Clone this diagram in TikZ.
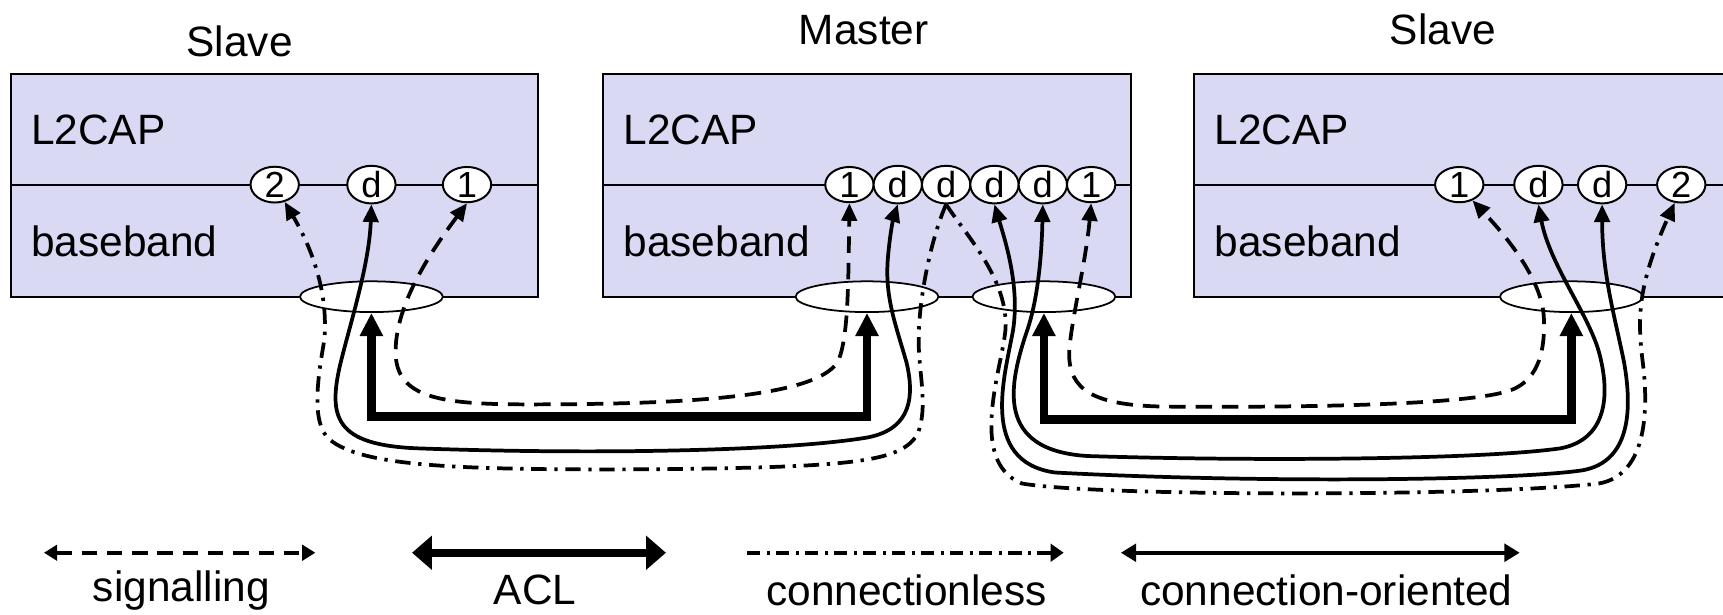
\documentclass[tikz,border=0pt]{standalone}
\usepackage{fontspec}
\setmainfont{Liberation Sans}
\usetikzlibrary{arrows.meta,shapes.geometric}
\definecolor{boxfill}{RGB}{217,217,243}
\begin{document}
\begin{tikzpicture}[x=0.5pt,y=-0.5pt,
  bigtext/.style={font=\fontsize{19.3}{23}\selectfont, inner sep=0pt},
  layerbox/.style={draw, line width=0.9pt, fill=boxfill},
  port/.style={ellipse, draw, fill=white, line width=0.9pt, minimum width=22pt, minimum height=14pt, inner sep=0pt, font=\fontsize{16.5}{17}\selectfont},
  linkend/.style={ellipse, draw, fill=white, line width=0.8pt, minimum width=65pt, minimum height=14pt, inner sep=0pt},
  conn/.style={line width=1.7pt},
  tip/.style={-{Triangle[length=8pt,width=7pt]}},
  twotip/.style={{Triangle[length=8pt,width=7pt]}-{Triangle[length=8pt,width=7pt]}},
  sig/.style={conn, dash pattern=on 7.5pt off 4.5pt},
  cless/.style={conn, dash pattern=on 7pt off 3.5pt on 1.5pt off 3.5pt},
  acl/.style={line width=4pt, {Triangle[length=10.5pt,width=10pt]}-{Triangle[length=10.5pt,width=10pt]}}
]
\useasboundingbox (0,0) rectangle (1568,559);
\begin{scope}
\clip (0,0) rectangle (1568,559);
% titles
\node[bigtext] (tS1) at (218,38) {Slave};
\node[bigtext] (tM) at (786,27) {Master};
\node[bigtext] (tS2) at (1313,27) {Slave};
% boxes
\draw[layerbox] (10,67) rectangle (490,270);
\draw[line width=0.9pt] (10,168) -- (490,168);
\draw[layerbox] (549,67) rectangle (1029,270);
\draw[line width=0.9pt] (549,168) -- (1029,168);
\draw[layerbox] (1087,67) rectangle (1580,270);
\draw[line width=0.9pt] (1087,168) -- (1580,168);
\node[bigtext, anchor=west] (l2a) at (28,118) {L2CAP};
\node[bigtext, anchor=west] (bba) at (28,220) {baseband};
\node[bigtext, anchor=west] (l2b) at (567,118) {L2CAP};
\node[bigtext, anchor=west] (bbb) at (567,220) {baseband};
\node[bigtext, anchor=west] (l2c) at (1105,118) {L2CAP};
\node[bigtext, anchor=west] (bbc) at (1105,220) {baseband};
% ports
\node[port] (p2L) at (250,168) {2};
\node[port] (pdL) at (338,168) {d};
\node[port] (p1L) at (425,168) {1};
\node[port] (m1a) at (773,168) {1};
\node[port] (md1) at (817,168) {d};
\node[port] (md2) at (861,168) {d};
\node[port] (md3) at (905,168) {d};
\node[port] (md4) at (949,168) {d};
\node[port] (m1b) at (993,168) {1};
\node[port] (r1) at (1328,168) {1};
\node[port] (rd1) at (1400,168) {d};
\node[port] (rd2) at (1458,168) {d};
\node[port] (r2) at (1530,168) {2};
% link ends
\node[linkend] (eL) at (338,270) {};
\node[linkend] (eM1) at (789,270) {};
\node[linkend] (eM2) at (950,270) {};
\node[linkend] (eR) at (1430,270) {};
% ACL
\draw[acl] (eL.south) -- ++(0,94) -| (eM1.south);
\draw[acl] (eM2.south) -- ++(0,97) -| (eR.south);
% left connection
\draw[sig, twotip] (p1L.south) .. controls (395,225) and (360,275) .. (360,320)
  .. controls (360,362) and (400,368) .. (480,368)
  .. controls (620,368) and (740,362) .. (762,330)
  .. controls (772,310) and (772,260) .. (m1a.south);
\draw[conn, twotip] (pdL.south) .. controls (336,240) and (320,290) .. (310,330)
  .. controls (298,380) and (305,405) .. (380,408)
  .. controls (550,414) and (720,410) .. (790,398)
  .. controls (830,390) and (832,360) .. (825,330)
  .. controls (815,295) and (805,270) .. (808,235)
  .. controls (810,210) and (814,195) .. (md1.south);
\draw[cless, tip] (md2.south) .. controls (848,215) and (836,270) .. (836,310)
  .. controls (836,340) and (845,370) .. (835,395)
  .. controls (820,420) and (780,425) .. (600,427)
  .. controls (420,428) and (330,425) .. (300,400)
  .. controls (282,385) and (290,340) .. (295,310)
  .. controls (298,280) and (292,240) .. (p2L.-60);
% right connection
\draw[sig, twotip] (m1b.south) .. controls (988,240) and (975,290) .. (973,320)
  .. controls (972,355) and (995,369) .. (1060,370)
  .. controls (1200,371) and (1340,368) .. (1375,355)
  .. controls (1402,345) and (1406,315) .. (1405,290)
  .. controls (1404,260) and (1380,225) .. (r1.-50);
\draw[conn, twotip] (md4.south) .. controls (948,230) and (945,270) .. (935,300)
  .. controls (918,350) and (905,410) .. (990,415)
  .. controls (1150,420) and (1350,418) .. (1420,408)
  .. controls (1462,400) and (1466,360) .. (1455,320)
  .. controls (1445,285) and (1410,240) .. (rd1.south);
\draw[conn, twotip] (md3.south) .. controls (915,220) and (928,260) .. (922,300)
  .. controls (915,340) and (890,420) .. (960,430)
  .. controls (1150,440) and (1380,437) .. (1440,428)
  .. controls (1485,420) and (1485,370) .. (1478,330)
  .. controls (1470,290) and (1458,250) .. (rd2.south);
\draw[cless, tip] (md2.south) .. controls (880,215) and (918,255) .. (915,300)
  .. controls (912,335) and (880,420) .. (930,440)
  .. controls (1000,452) and (1350,452) .. (1455,440)
  .. controls (1500,432) and (1500,370) .. (1495,330)
  .. controls (1490,290) and (1490,260) .. (r2.-110);
% legend
\coordinate (sa) at (40,503); \coordinate (sb) at (287,503);
\coordinate (aa) at (375,503); \coordinate (ab) at (606,503);
\coordinate (ca) at (680,503); \coordinate (cb) at (968,503);
\coordinate (oa) at (1020,503); \coordinate (ob) at (1383,503);
\draw[line width=2pt, dash pattern=on 7pt off 4.5pt, {Triangle[length=6pt,width=7pt]}-{Triangle[length=6pt,width=7pt]}] (sa) -- (sb);
\draw[line width=3.5pt, {Triangle[length=9pt,width=15pt]}-{Triangle[length=9pt,width=15pt]}] (aa) -- (ab);
\draw[line width=2pt, dash pattern=on 6pt off 3pt on 1.2pt off 3pt, -{Triangle[length=6pt,width=8pt]}] (ca) -- (cb);
\draw[line width=1.8pt, {Triangle[length=7pt,width=8pt]}-{Triangle[length=7pt,width=8pt]}] (oa) -- (ob);
\node[bigtext] (lg1) at (165,537) {signalling};
\node[bigtext] (lg2) at (487,537) {ACL};
\node[bigtext] (lg3) at (825,537) {connectionless};
\node[bigtext] (lg4) at (1207,537) {connection-oriented};
\end{scope}
\end{tikzpicture}
\end{document}
